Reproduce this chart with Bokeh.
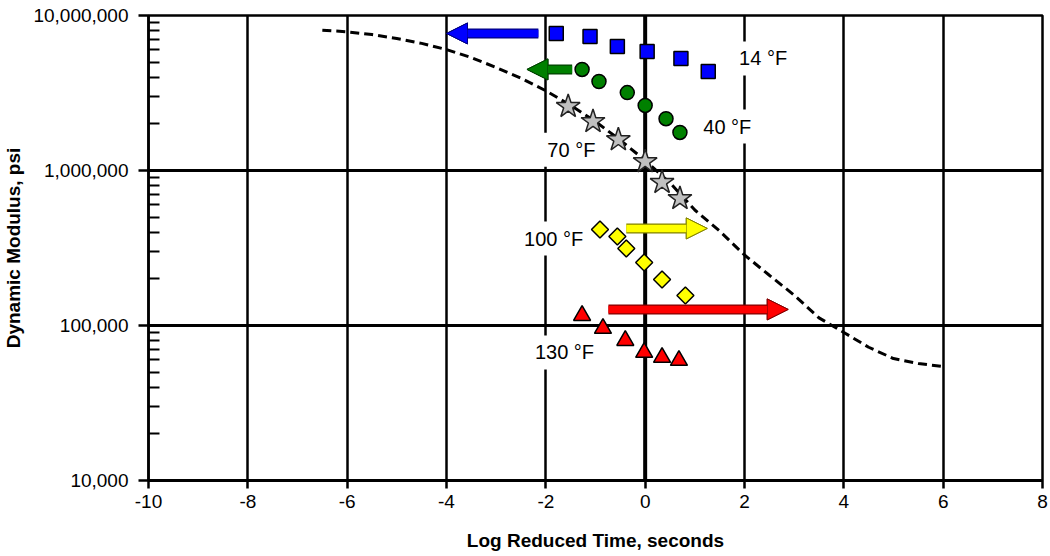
from bokeh.plotting import figure
from bokeh.models import FixedTicker, Arrow, NormalHead, Span
from bokeh.core.properties import value
from bokeh.embed import file_html
from bokeh.resources import INLINE

# ---- data ----
x_14 = [-1.79, -1.11, -0.56, 0.04, 0.72, 1.27]
y_14 = [7.66e6, 7.33e6, 6.31e6, 5.86e6, 5.28e6, 4.35e6]
x_40 = [-1.27, -0.93, -0.36, 0.0, 0.42, 0.70]
y_40 = [4.49e6, 3.75e6, 3.18e6, 2.63e6, 2.16e6, 1.76e6]
x_70 = [-1.55, -1.05, -0.54, 0.0, 0.34, 0.70]
y_70 = [2.59e6, 2.07e6, 1.58e6, 1.14e6, 8.37e5, 6.59e5]
x_100 = [-0.91, -0.56, -0.38, -0.02, 0.34, 0.81]
y_100 = [4.16e5, 3.75e5, 3.14e5, 2.55e5, 1.98e5, 1.56e5]
x_130 = [-1.27, -0.85, -0.40, -0.02, 0.34, 0.68]
y_130 = [1.16e5, 9.57e4, 8.0e4, 6.7e4, 6.22e4, 5.95e4]

master_x = [-6.5, -6.0, -5.5, -5.0, -4.5, -4.0, -3.5, -3.0, -2.5, -2.0, -1.5, -1.0, -0.5,
            0.0, 0.5, 1.0, 1.5, 2.0, 2.5, 3.0, 3.5, 4.0, 4.5, 5.0, 5.5, 6.0]
master_y = [8.04e6, 7.85e6, 7.53e6, 7.11e6, 6.61e6, 6.03e6, 5.35e6, 4.62e6, 3.94e6, 3.27e6,
            2.63e6, 2.07e6, 1.57e6, 1.16e6, 8.32e5, 5.56e5, 4.07e5, 2.85e5, 2.11e5, 1.57e5,
            1.12e5, 9.02e4, 7.24e4, 6.12e4, 5.69e4, 5.43e4]

arrow_x_start = [-2.15, -1.47, -0.38, -0.74]
arrow_x_end = [-4.0, -2.38, 1.25, 2.88]
arrow_y = [7.66e6, 4.49e6, 4.23e5, 1.27e5]
arrow_colors = ["#0000FF", "#008000", "#FFFF00", "#FF0000"]
arrow_edges = ["#000080", "#004000", "#808000", "#800000"]

label_text = ["14 °F", "40 °F", "70 °F", "100 °F", "130 °F"]
label_x = [1.77, 1.05, -2.09, -2.56, -2.34]
label_y = [5.28e6, 1.92e6, 1.36e6, 3.64e5, 6.7e4]

x_ticks = [-10, -8, -6, -4, -2, 0, 2, 4, 6, 8]
x_tick_labels = ["-10", "-8", "-6", "-4", "-2", "0", "2", "4", "6", "8"]
y_ticks = [1e4, 1e5, 1e6, 1e7]
y_tick_labels = ["10,000", "100,000", "1,000,000", "10,000,000"]

FONT = "Liberation Sans"

p = figure(frame_width=894, frame_height=465, y_axis_type="log",
           x_range=(-10, 8), y_range=(1e4, 1e7),
           output_backend="svg", toolbar_location=None,
           min_border_left=148, min_border_right=6, min_border_top=15, min_border_bottom=72,
           background_fill_color="white", border_fill_color="white")

minor = [m * d for d in [1e4, 1e5, 1e6] for m in range(2, 10)]
p.xaxis.ticker = FixedTicker(ticks=x_ticks)
p.xaxis.major_label_overrides = {float(t): l for t, l in zip(x_ticks, x_tick_labels)}
p.yaxis.ticker = FixedTicker(ticks=y_ticks, minor_ticks=minor)
p.yaxis.major_label_overrides = {float(t): l for t, l in zip(y_ticks, y_tick_labels)}

for ax in (p.xaxis, p.yaxis):
    ax.major_label_text_font = FONT
    ax.major_label_text_font_size = "19px"
    ax.major_label_text_color = "black"
    ax.axis_label_text_font = FONT
    ax.axis_label_text_font_size = "19px"
    ax.axis_label_text_font_style = "bold"
    ax.axis_label_text_color = "black"
    ax.axis_line_color = "black"
    ax.major_tick_line_color = "black"
    ax.major_tick_in = 0

p.xaxis.axis_label = "Log Reduced Time, seconds"
p.xaxis.major_tick_out = 8
p.xaxis.major_tick_line_width = 2.5
p.xaxis.axis_line_width = 3
p.xaxis.major_label_standoff = 6
p.xaxis.axis_label_standoff = 19
p.xaxis.minor_tick_line_color = None

p.yaxis.axis_label = "Dynamic Modulus, psi"
p.yaxis.major_tick_out = 10
p.yaxis.major_tick_line_width = 2.5
p.yaxis.axis_line_width = 2.5
p.yaxis.minor_tick_in = 11
p.yaxis.minor_tick_out = 0
p.yaxis.minor_tick_line_color = "black"
p.yaxis.minor_tick_line_width = 2
p.yaxis.major_label_standoff = 10
p.yaxis.axis_label_standoff = 6

p.xgrid.grid_line_color = "black"
p.xgrid.grid_line_width = 2.5
p.ygrid.grid_line_color = "black"
p.ygrid.grid_line_width = 3
p.outline_line_color = "black"
p.outline_line_width = 2.5

p.add_layout(Span(location=0, dimension="height", line_color="black", line_width=4, level="underlay"))

# master curve
p.line(master_x, master_y, line_color="black", line_width=3, line_dash="9 5")

# labels with white boxes
p.text(x=label_x, y=label_y, text=label_text, text_font=value(FONT),
       text_font_size=value("20px"), text_color="black",
       text_align="left", text_baseline="middle",
       background_fill_color="white", padding=6)

# markers
p.scatter(x_14, y_14, marker="square", size=14, fill_color="#0000FF", line_color="black", line_width=1.5)
p.scatter(x_40, y_40, marker="circle", size=14, fill_color="#008000", line_color="black", line_width=1.5)
p.scatter(x_70, y_70, marker="star", size=25, fill_color="#C0C0C0", line_color="#222222", line_width=1.5)
p.scatter(x_100, y_100, marker="square", angle=0.785398, size=12, fill_color="#FFFF00", line_color="black", line_width=1.5)
p.scatter(x_130, y_130, marker="triangle", size=17, fill_color="#FF0000", line_color="black", line_width=1.5)

# arrows
for xs, xe, ya, col, edge in zip(arrow_x_start, arrow_x_end, arrow_y, arrow_colors, arrow_edges):
    p.add_layout(Arrow(x_start=xs, y_start=ya, x_end=xe, y_end=ya, line_width=10, line_color=edge,
                       end=NormalHead(size=21, fill_color=edge, line_color=edge, line_width=1)))
    p.add_layout(Arrow(x_start=xs, y_start=ya, x_end=xe, y_end=ya, line_width=7.5, line_color=col,
                       end=NormalHead(size=21, fill_color=col, line_color=edge, line_width=1)))

open("out.html", "w").write(file_html(p, INLINE))
